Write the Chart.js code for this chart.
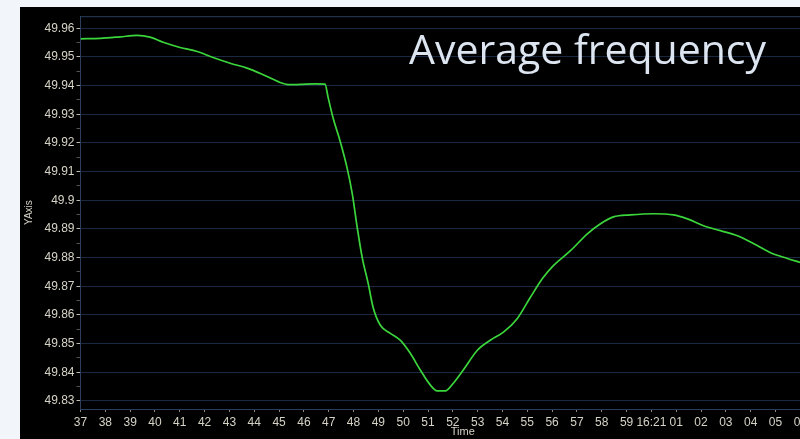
<!DOCTYPE html>
<html>
<head>
<meta charset="utf-8">
<script src="https://cdn.jsdelivr.net/npm/chart.js@4.4.1/dist/chart.umd.min.js"></script>
<style>
  html, body { margin: 0; padding: 0; width: 800px; height: 439px; overflow: hidden; background: #f2f6fb; }
  #panel { position: absolute; left: 20px; top: 7px; width: 800px; height: 432px; background: #000; }
  #wrap { position: absolute; left: 20px; top: 7px; width: 825px; height: 432px; }
  #title { position: absolute; left: 409px; top: 20px; font-family: "Open Sans", sans-serif; font-size: 41px; color: #dde5f1; white-space: nowrap; letter-spacing: 0px; }
</style>
</head>
<body>
<div id="panel"></div>
<div id="wrap"><canvas id="c" width="825" height="432"></canvas></div>
<div id="title">Average frequency</div>
<script>
// Time in seconds after 16:20:00 (60 = 16:21:00)
const timeSec = [37.0, 37.79, 38.59, 39.28, 39.80, 40.33, 41.01, 41.70, 42.34, 43.03, 43.71, 44.36, 45.04, 45.44, 45.85, 46.45, 46.85,
  46.98, 47.18, 47.46, 47.74, 47.95, 48.15, 48.35, 48.59, 48.79, 49.08, 49.48, 49.88, 50.28, 50.69, 51.09, 51.37, 51.70,
  52.02, 52.42, 52.99, 53.51, 54.04, 54.60, 55.12, 55.61, 56.05, 56.74, 57.42, 57.95, 58.47, 59.16, 60.08, 60.89, 61.45,
  62.10, 62.78, 63.47, 64.11, 64.80, 65.48, 66.0];
const freq = [49.9563, 49.9565, 49.9570, 49.9575, 49.9569, 49.9551, 49.9533, 49.9519, 49.9498, 49.9478, 49.9461, 49.9438, 49.9411, 49.9403, 49.9404, 49.9406, 49.9405,
  49.9357, 49.9286, 49.9206, 49.9113, 49.9022, 49.8904, 49.8800, 49.8710, 49.8626, 49.8564, 49.8536, 49.8512, 49.8467, 49.8408, 49.8356, 49.8335, 49.8335,
  49.8362, 49.8408, 49.8477, 49.8512, 49.8540, 49.8588, 49.8661, 49.8727, 49.8772, 49.8824, 49.8883, 49.8918, 49.8942, 49.8949, 49.8953, 49.8949, 49.8935,
  49.8911, 49.8894, 49.8876, 49.8849, 49.8817, 49.8797, 49.8783];

const xTickValues = [37,38,39,40,41,42,43,44,45,46,47,48,49,50,51,52,53,54,55,56,57,58,59,60,61,62,63,64,65,66,67];
const xTickLabels = ['37','38','39','40','41','42','43','44','45','46','47','48','49','50','51','52','53','54','55','56','57','58','59','16:21','01','02','03','04','05','06','07'];
const yTickValues = [49.83,49.84,49.85,49.86,49.87,49.88,49.89,49.9,49.91,49.92,49.93,49.94,49.95,49.96];
const yTickLabels = ['49.83','49.84','49.85','49.86','49.87','49.88','49.89','49.9','49.91','49.92','49.93','49.94','49.95','49.96'];
const yMinorValues = [49.835,49.845,49.855,49.865,49.875,49.885,49.895,49.905,49.915,49.925,49.935,49.945,49.955];

const labelColor = '#d6d3c6';
const axisColor = '#2c3e5e';
const gridColor = '#1a2842';

const frame = {
  id: 'frame',
  afterDatasetsDraw(chart) {
    const a = chart.chartArea, ctx = chart.ctx;
    ctx.save();
    ctx.strokeStyle = axisColor;
    ctx.lineWidth = 1;
    ctx.beginPath();
    ctx.moveTo(a.left, a.top + 0.5);
    ctx.lineTo(a.right, a.top + 0.5);
    ctx.stroke();
    ctx.restore();
  }
};

new Chart(document.getElementById('c'), {
  type: 'line',
  data: {
    datasets: [{
      data: timeSec.map((t, i) => ({ x: t, y: freq[i] })),
      borderColor: '#3bd63b',
      borderWidth: 1.7,
      pointRadius: 0,
      cubicInterpolationMode: 'monotone',
      fill: false
    }]
  },
  options: {
    responsive: false,
    animation: false,
    layout: { padding: { top: 8, right: 0, left: 0, bottom: 0 } },
    plugins: { legend: { display: false }, tooltip: { enabled: false } },
    scales: {
      x: {
        type: 'linear',
        min: 37,
        max: 67.8,
        afterBuildTicks: s => { s.ticks = xTickValues.map(v => ({ value: v })); },
        afterFit: s => { s.height = 30; },
        grid: { drawOnChartArea: false, drawTicks: true, tickLength: 3, tickColor: '#8a8a80' },
        border: { display: true, color: axisColor, width: 1 },
        ticks: {
          autoSkip: false, maxRotation: 0, minRotation: 0, padding: 3,
          color: labelColor, font: { family: 'Arial, "Liberation Sans", sans-serif', size: 12 },
          callback: (v) => { const i = xTickValues.indexOf(v); return i >= 0 ? xTickLabels[i] : ''; }
        },
        title: { display: true, text: 'Time', color: labelColor, padding: { top: 0, bottom: 0 },
          font: { family: 'Arial, "Liberation Sans", sans-serif', size: 11 } }
      },
      y: {
        min: 49.8272,
        max: 49.9642,
        afterBuildTicks: s => {
          const all = yTickValues.map(v => ({ value: v, major: true })).concat(yMinorValues.map(v => ({ value: v, major: false })));
          all.sort((a, b) => a.value - b.value);
          s.ticks = all;
        },
        afterFit: s => { s.width = 60.5; },
        grid: {
          drawOnChartArea: true, drawTicks: true, tickLength: 4,
          color: ctx => (ctx.tick && yTickValues.some(v => Math.abs(v - ctx.tick.value) < 1e-6)) ? gridColor : 'rgba(0,0,0,0)',
          tickColor: ctx => (ctx.tick && yTickValues.some(v => Math.abs(v - ctx.tick.value) < 1e-6)) ? '#bdbab0' : '#55534e',
          lineWidth: 1
        },
        border: { display: true, color: axisColor, width: 1 },
        ticks: {
          autoSkip: false, padding: 2,
          color: labelColor, font: { family: 'Arial, "Liberation Sans", sans-serif', size: 12 },
          callback: (v) => { const i = yTickValues.findIndex(t => Math.abs(t - v) < 1e-6); return i >= 0 ? yTickLabels[i] : ''; }
        },
        title: { display: true, text: 'YAxis', color: labelColor, padding: { top: 3, bottom: 0 },
          font: { family: 'Arial, "Liberation Sans", sans-serif', size: 10 } }
      }
    }
  },
  plugins: [frame]
});
</script>
</body>
</html>
